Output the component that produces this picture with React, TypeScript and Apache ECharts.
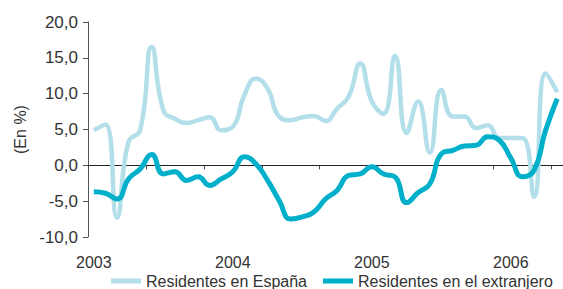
import React, { useEffect, useRef } from "react";
import * as echarts from "echarts";

const months: string[] = [];
for (let y = 2003; y <= 2006; y++) {
  for (let m = 1; m <= 12; m++) {
    if (y === 2006 && m > 5) break;
    months.push(`${y}-${m < 10 ? "0" + m : m}`);
  }
}

const residentesEspana = [
  4.9, 5.7, -7.3, 3.3, 4.9, 16.5, 7.7, 6.5, 5.9, 6.3, 6.7, 4.9,
  5.4, 9.8, 12.1, 10.7, 6.8, 6.3, 6.7, 6.9, 6.2, 7.9, 9.6, 14.2,
  8.9, 7.2, 15.3, 4.5, 8.9, 1.8, 10.5, 6.8, 6.8, 5.2, 5.6, 3.8,
  3.8, 3.8, -4.4, 12.8, 10.2,
];

const residentesExtranjero = [
  -3.7, -3.9, -4.7, -1.9, -0.5, 1.5, -1.2, -0.9, -2.1, -1.6, -2.8, -1.9,
  -0.9, 1.2, 0.2, -2.1, -4.9, -7.5, -7.2, -6.5, -4.7, -3.5, -1.4, -1.2,
  -0.2, -1.2, -1.6, -5.2, -3.8, -2.6, 1.6, 2.1, 2.7, 2.8, 4.0, 3.5,
  1.0, -1.6, -0.7, 4.9, 9.3,
];

const yTicks = { min: -10, max: 20, interval: 5 };

const FONT = "'Liberation Sans', Arial, Helvetica, sans-serif";

export default function App() {
  const ref = useRef<HTMLDivElement>(null);
  useEffect(() => {
    document.body.style.margin = "0";
    if (!ref.current) return;
    const chart = echarts.init(ref.current, undefined, { renderer: "svg" });
    chart.setOption({
      animation: false,
      backgroundColor: "#ffffff",
      textStyle: { fontFamily: FONT },
      grid: { left: 88, top: 22, bottom: 52, right: -5, containLabel: false },
      legend: {
        bottom: 0,
        left: 111,
        width: 452,
        padding: 0,
        orient: "horizontal",
        icon: "rect",
        itemWidth: 30,
        itemHeight: 5,
        itemGap: 16,
        textStyle: { fontSize: 16, lineHeight: 16, color: "#333333", fontFamily: FONT },
        data: ["Residentes en España", "Residentes en el extranjero"],
      },
      xAxis: [
        {
          type: "category",
          data: months,
          boundaryGap: true,
          axisLine: { onZero: true, lineStyle: { color: "#222222", width: 1 } },
          axisTick: { show: true, length: 4, lineStyle: { color: "#444444" } },
          axisLabel: { show: false },
          splitLine: { show: false },
        },
        {
          type: "category",
          data: months,
          boundaryGap: true,
          position: "bottom",
          axisLine: { show: false, onZero: false },
          axisTick: { show: false },
          axisLabel: {
            show: true,
            interval: (idx: number) => idx % 12 === 0,
            formatter: (v: string) => v.slice(0, 4),
            fontSize: 16,
            lineHeight: 16,
            color: "#333333",
            margin: 17,
            fontFamily: FONT,
          },
          splitLine: { show: false },
        },
      ],
      yAxis: {
        type: "value",
        min: yTicks.min,
        max: yTicks.max,
        interval: yTicks.interval,
        name: "(En %)",
        nameLocation: "middle",
        nameGap: 60,
        nameRotate: 90,
        nameTextStyle: { fontSize: 16, color: "#333333", fontFamily: FONT },
        axisLine: { show: true, lineStyle: { color: "#555555", width: 1 } },
        axisTick: { show: true, length: 5, lineStyle: { color: "#555555" } },
        axisLabel: {
          fontSize: 17,
          color: "#333333",
          margin: 10,
          fontFamily: FONT,
          formatter: (v: number) => v.toFixed(1).replace(".", ","),
        },
        splitLine: { show: false },
      },
      series: [
        {
          name: "Residentes en España",
          type: "line",
          data: residentesEspana,
          smooth: 0.5,
          showSymbol: false,
          symbol: "none",
          xAxisIndex: 0,
          lineStyle: { color: "#b3dfea", width: 4.5 },
          itemStyle: { color: "#b3dfea" },
        },
        {
          name: "Residentes en el extranjero",
          type: "line",
          data: residentesExtranjero,
          smooth: 0.5,
          showSymbol: false,
          symbol: "none",
          xAxisIndex: 0,
          lineStyle: { color: "#00afc9", width: 5 },
          itemStyle: { color: "#00afc9" },
        },
      ],
    });
    return () => chart.dispose();
  }, []);
  return <div ref={ref} style={{ width: 563, height: 289 }} />;
}
